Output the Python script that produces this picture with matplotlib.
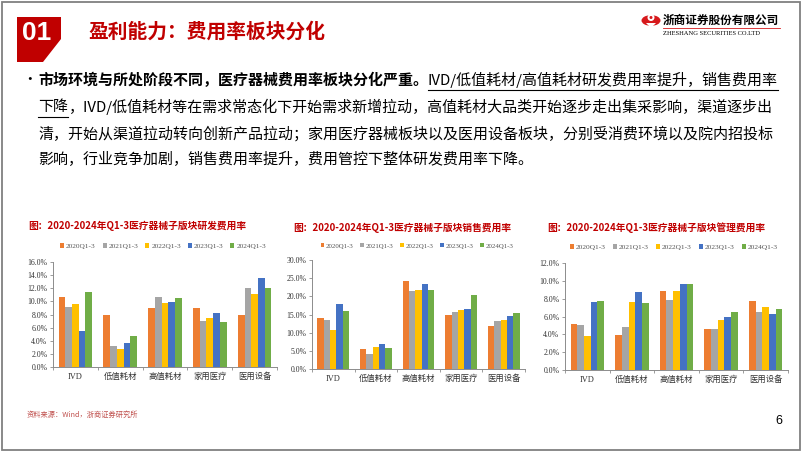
import matplotlib
matplotlib.use('Agg')
import matplotlib.pyplot as plt
from matplotlib.patches import Polygon, Rectangle, Circle, Ellipse
from matplotlib.lines import Line2D
from matplotlib.ticker import FuncFormatter, FixedLocator
import numpy as np

plt.rcParams['font.family'] = ['Noto Sans CJK SC', 'DejaVu Sans']

# ---------------- data ----------------
categories = ['IVD', '低值耗材', '高值耗材', '家用医疗', '医用设备']
periods = ['2020Q1-3', '2021Q1-3', '2022Q1-3', '2023Q1-3', '2024Q1-3']

# R&D expense ratio (%), one list per period, order = categories
rd_values = [
    [10.6, 8.0, 9.0, 9.0, 8.0],
    [9.2, 3.2, 10.6, 7.0, 12.0],
    [9.6, 2.8, 9.7, 7.4, 11.2],
    [5.5, 3.7, 9.9, 8.3, 13.6],
    [11.4, 4.8, 10.5, 6.8, 12.1],
]
# Selling expense ratio (%)
sales_values = [
    [14.1, 5.6, 24.2, 14.9, 11.9],
    [13.5, 4.0, 21.5, 15.7, 13.2],
    [10.7, 6.0, 21.8, 16.3, 13.5],
    [18.0, 6.8, 23.4, 16.5, 14.6],
    [16.0, 5.8, 21.8, 20.5, 15.4],
]
# Administrative expense ratio (%)
admin_values = [
    [5.2, 3.9, 8.9, 4.6, 7.7],
    [5.0, 4.8, 7.8, 4.6, 6.5],
    [3.8, 7.6, 8.9, 5.6, 7.1],
    [7.6, 8.7, 9.6, 5.9, 6.3],
    [7.7, 7.5, 9.7, 6.5, 6.8],
]

chart_titles = [
    '图：2020-2024年Q1-3医疗器械子版块研发费用率',
    '图：2020-2024年Q1-3医疗器械子版块销售费用率',
    '图：2020-2024年Q1-3医疗器械子版块管理费用率',
]
slide_title = '盈利能力：费用率板块分化'
section_no = '01'
company_cn = '浙商证券股份有限公司'
company_en = 'ZHESHANG SECURITIES CO.LTD'
source_note = '资料来源：Wind，浙商证券研究所'
page_no = '6'

body_lines = [
    [('市场环境与所处阶段不同，医疗器械费用率板块分化严重。', True, False),
     ('IVD/低值耗材/高值耗材研发费用率提升，销售费用率', False, True)],
    [('下降', False, True),
     ('，IVD/低值耗材等在需求常态化下开始需求新增拉动，高值耗材大品类开始逐步走出集采影响，渠道逐步出', False, False)],
    [('清，开始从渠道拉动转向创新产品拉动；家用医疗器械板块以及医用设备板块，分别受消费环境以及院内招投标', False, False)],
    [('影响，行业竞争加剧，销售费用率提升，费用管控下整体研发费用率下降。', False, False)],
]

colors = ['#ED7D31', '#A5A5A5', '#FFC000', '#4472C4', '#70AD47']
RED = '#C00000'

# ---------------- figure ----------------
W, H = 802, 451
fig = plt.figure(figsize=(W / 100, H / 100), dpi=100)
fig.patch.set_facecolor('white')


def fx(x):
    return x / W


def fy(y):
    return 1 - y / H


# slide frame
fig.add_artist(Rectangle((fx(1.5), fy(449.5)), fx(798.5), (448) / H,
                         fill=False, edgecolor='#808080', linewidth=1.3,
                         transform=fig.transFigure))

# section badge
pts = [(17, 17), (61, 17), (61, 39), (43, 62), (17, 62)]
fig.add_artist(Polygon([(fx(a), fy(b)) for a, b in pts], closed=True,
                       facecolor=RED, edgecolor='none', transform=fig.transFigure))
fig.text(fx(36.5), fy(33.5), section_no, color='white', fontsize=19, fontweight='bold',
         family=['Liberation Sans Narrow', 'Liberation Sans'], ha='center', va='center')

# slide title
fig.text(fx(88), fy(32), slide_title, color=RED, fontsize=14.2, fontweight='bold',
         ha='left', va='center')

# logo
fig.add_artist(Circle((fx(651), fy(20.5)), 9.5 / W, facecolor='#D7191C', edgecolor='none',
                      transform=fig.transFigure))
fig.add_artist(Ellipse((fx(651), fy(17.5)), 7 / W, 7 / H, facecolor='white', edgecolor='none',
                       transform=fig.transFigure))
fig.add_artist(Ellipse((fx(651), fy(17.5)), 3 / W, 3 / H, facecolor='#D7191C', edgecolor='none',
                       transform=fig.transFigure))
fig.add_artist(Polygon([(fx(646), fy(23)), (fx(656), fy(23)), (fx(651), fy(28))], closed=True,
                       facecolor='white', edgecolor='none', transform=fig.transFigure))
fig.text(fx(663), fy(20.5), company_cn, color='black', fontsize=8.4, fontweight='bold',
         ha='left', va='center')
fig.add_artist(Line2D([fx(663), fx(780)], [fy(28.3), fy(28.3)], color='#D7191C', lw=0.6,
                      transform=fig.transFigure))
fig.text(fx(663), fy(33.5), company_en, color='black', fontsize=4.7,
         family=['Liberation Serif'], ha='left', va='center')

# body text
renderer = fig.canvas.get_renderer()
line_ys = [80, 107, 134, 160]
fig.text(fx(30), fy(80), '•', fontsize=10.5, ha='center', va='center', color='black')
for segs, y in zip(body_lines, line_ys):
    x = 38
    for txt, bold, ul in segs:
        t = fig.text(fx(x), fy(y), txt, fontsize=10.8, fontweight='bold' if bold else 'normal',
                     ha='left', va='center', color='black')
        bb = t.get_window_extent(renderer)
        if ul:
            fig.add_artist(Line2D([fx(x), fx(x + bb.width)], [fy(y + 9.5), fy(y + 9.5)],
                                  color='black', lw=0.8, transform=fig.transFigure))
        x += bb.width


# charts
def draw_chart(values, box, ymax, ystep, title, title_pos, legend_center, legend_size):
    left, top, right, bottom = box
    ax = fig.add_axes([fx(left), fy(bottom), fx(right - left), (bottom - top) / H])
    n = len(categories)
    xs = np.arange(n)
    bw = 0.15
    handles = []
    for i, (p, vals) in enumerate(zip(periods, values)):
        b = ax.bar(xs + (i - 2) * bw, vals, width=bw, color=colors[i], label=p, linewidth=0)
        handles.append(b)
    ax.set_xlim(-0.5, n - 0.5)
    ax.set_ylim(0, ymax)
    ax.set_yticks(np.arange(0, ymax + 1e-9, ystep))
    ax.yaxis.set_major_formatter(FuncFormatter(lambda v, _: f'{v:.1f}%'))
    ax.set_xticks(xs)
    ax.set_xticklabels(categories)
    ax.xaxis.set_minor_locator(FixedLocator(np.arange(-0.5, n, 1.0)))
    for s in ['top', 'right']:
        ax.spines[s].set_visible(False)
    for s in ['left', 'bottom']:
        ax.spines[s].set_color('#8C8C8C')
        ax.spines[s].set_linewidth(0.7)
    ax.tick_params(axis='y', length=2.5, width=0.6, color='#8C8C8C', pad=1.5,
                   labelsize=5.6, labelcolor='#333333')
    ax.tick_params(axis='x', which='major', length=0, pad=4, labelsize=6, labelcolor='#333333')
    ax.tick_params(axis='x', which='minor', length=2.5, width=0.6, color='#8C8C8C')
    for lab in ax.get_yticklabels():
        lab.set_family(['Liberation Serif'])
    for lab in ax.get_xticklabels():
        lab.set_family(['Liberation Serif', 'Noto Sans CJK SC'])
    fig.text(fx(title_pos[0]), fy(title_pos[1]), title, color=RED, fontsize=7.0,
             fontweight='bold', ha='left', va='center')
    leg = ax.legend(handles=handles, labels=periods, loc='center', ncol=5, frameon=False,
                    bbox_to_anchor=(fx(legend_center[0]), fy(legend_center[1])),
                    bbox_transform=fig.transFigure, handlelength=0.55, handleheight=0.55,
                    handletextpad=0.25, columnspacing=0.95, borderpad=0,
                    prop={'family': 'Liberation Serif', 'size': legend_size})
    for t in leg.get_texts():
        t.set_color('#555555')
    return ax


draw_chart(rd_values, (53, 262, 277, 367), 16, 2, chart_titles[0], (28, 226), (163, 246), 5.3)
draw_chart(sales_values, (312, 260, 525, 369), 30, 5, chart_titles[1], (293, 228), (417, 246), 4.95)
draw_chart(admin_values, (565, 263, 788, 370), 12, 2, chart_titles[2], (547, 228), (674, 247), 5.4)

# footer
fig.text(fx(27), fy(415), source_note, color='#C0504D', fontsize=5.2, ha='left', va='center')
fig.text(fx(779), fy(421), page_no, color='black', fontsize=9, ha='center', va='center',
         family=['Liberation Sans'])

fig.savefig('out.png', dpi=100, facecolor='white')
